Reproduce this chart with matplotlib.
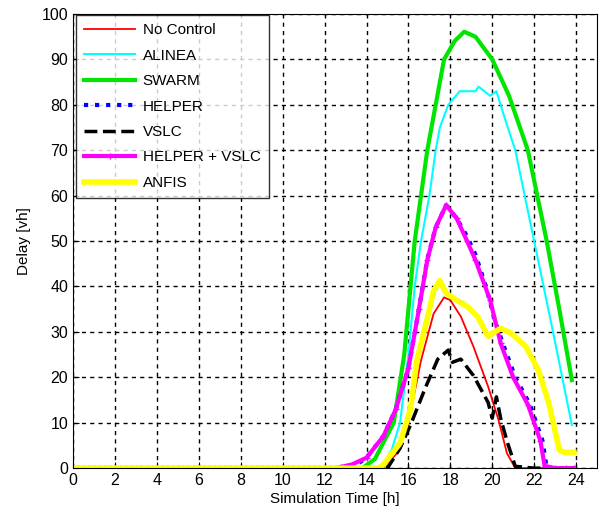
import numpy as np
import matplotlib
matplotlib.use('Agg')
import matplotlib.pyplot as plt

plt.rcParams['font.family'] = ['Liberation Sans', 'DejaVu Sans']

# zero baseline shared by all curves (0 .. 12.5 h)
t_zero = [0, 1, 2, 3, 4, 5, 6, 7, 8, 9, 10, 11, 12, 12.5]
z_zero = [0] * len(t_zero)

t_nocontrol = [13, 14, 14.8, 15.4, 16.0, 16.6, 17.2, 17.7, 18.0, 18.5, 19.1, 19.8, 20.3, 20.7, 21.1, 22, 23, 23.9]
y_nocontrol = [0, 0, 0, 3, 10, 23.7, 34, 37.6, 37, 33.4, 26.8, 18, 10.6, 3.3, 0, 0, 0, 0]

t_alinea = [13, 14, 14.7, 15.2, 15.6, 16.0, 16.3, 16.6, 17.0, 17.3, 17.5, 17.9, 18.45, 19.2, 19.35, 19.9, 20.2, 20.6, 21.1, 22.0, 22.9, 23.8]
y_alinea = [0, 0, 0, 4, 10, 25, 40, 50, 60, 70, 75, 80, 83, 83, 84, 82, 83, 77, 70, 50, 30, 9.5]

t_swarm = [13, 13.8, 14.4, 14.8, 15.3, 15.8, 16.3, 16.9, 17.3, 17.7, 18.2, 18.66, 19.2, 20.0, 20.8, 21.7, 22.6, 23.2, 23.8]
y_swarm = [0, 0, 2, 5.6, 10, 25, 50, 70, 80, 90, 94, 96.1, 95, 90, 82, 70, 50, 35, 19.4]

t_helper = [13, 13.5, 14.0, 14.8, 15.4, 16.0, 16.5, 16.9, 17.3, 17.8, 18.3, 18.8, 19.2, 19.7, 20.1, 20.5, 21.1, 21.8, 22.4, 22.6, 23, 23.9]
y_helper = [0, 0.7, 2.3, 7, 13, 22, 35, 46, 53, 57.9, 55, 51, 47, 40, 33, 27.5, 20, 14, 6, 0, 0, 0]

t_vslc = [13, 14, 15.0, 15.6, 16.1, 16.8, 17.4, 17.9, 18.1, 18.5, 19.1, 19.8, 20.0, 20.2, 20.4, 20.7, 21.1, 22, 22.5]
y_vslc = [0, 0, 0, 4.4, 9.5, 17.6, 24, 26, 23.3, 24, 20.4, 14.5, 11, 15.7, 11, 6, 0.4, 0, 0]

t_hv = [12.5, 12.8, 13.3, 14.0, 14.8, 15.4, 16.0, 16.5, 16.9, 17.3, 17.8, 18.3, 18.8, 19.2, 19.9, 20.4, 21.0, 21.7, 22.3, 22.5, 23, 23.5, 23.9]
y_hv = [0, 0.3, 0.8, 2.3, 7, 13, 22, 35, 45.8, 53, 57.9, 55, 50, 45.8, 37, 27.5, 20, 14, 6, 0.5, 0, 0, 0]

t_anfis = [13, 14, 14.6, 14.8, 15.6, 16.1, 16.4, 16.9, 17.2, 17.5, 17.8, 18.3, 18.8, 19.3, 19.8, 20.4, 20.9, 21.6, 22.2, 22.7, 23.2, 23.4, 23.9]
y_anfis = [0, 0, 0, 0.7, 5.5, 13, 23.7, 33, 39, 41.3, 38.5, 37, 35.6, 33.4, 29, 30.8, 29.7, 26.8, 21.6, 14.3, 4, 3.5, 3.5]

fig = plt.figure(figsize=(6.0, 5.19), dpi=100)
ax = fig.add_axes([0.122, 0.098, 0.873, 0.875])

def full(t, y):
    return list(t_zero) + list(t), list(z_zero) + list(y)

ax.plot(*full(t_nocontrol, y_nocontrol), color='red', lw=1.3, label='No Control')
ax.plot(*full(t_alinea, y_alinea), color='cyan', lw=1.5, label='ALINEA')
ax.plot(*full(t_swarm, y_swarm), color='#00e600', lw=3, label='SWARM')
ax.plot(*full(t_helper, y_helper), color='blue', lw=3, ls=':', label='HELPER')
ax.plot(*full(t_vslc, y_vslc), color='black', lw=2.5, ls='--', label='VSLC')
hv_t = list(np.arange(0, 12.5, 0.25)) + t_hv
hv_y = [0] * 50 + y_hv
ax.plot(hv_t, hv_y, color='magenta', lw=3, marker='+', ms=5, mew=1, label='HELPER + VSLC')
ax.plot(*full(t_anfis, y_anfis), color='yellow', lw=4, label='ANFIS')

ax.set_xlim(0, 25)
ax.set_ylim(0, 100)
ax.set_xticks(range(0, 25, 2))
ax.set_yticks(range(0, 101, 10))
ax.tick_params(direction='in', labelsize=11.5, length=4)
ax.grid(True, color='black', ls=(0, (3, 3)), lw=1)
ax.set_xlabel('Simulation Time [h]', fontsize=11, labelpad=3)
ax.set_ylabel('Delay [vh]', fontsize=11, labelpad=8)

leg = ax.legend(loc='upper left', fontsize=11, frameon=True, fancybox=False,
                edgecolor='black', handlelength=3.3, borderaxespad=0.05,
                labelspacing=0.75, handletextpad=0.5, borderpad=0.55)
leg.get_frame().set_linewidth(1)
leg.set_bbox_to_anchor((0.004, 1.0), transform=ax.transAxes)

fig.savefig('out.png', dpi=100)
